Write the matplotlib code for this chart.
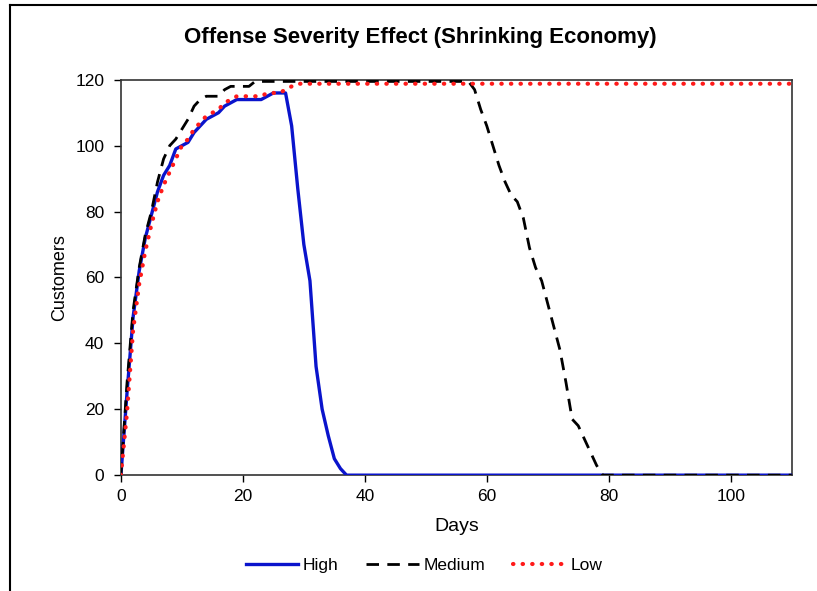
import matplotlib
matplotlib.use('Agg')
import matplotlib.pyplot as plt
from matplotlib.lines import Line2D

# Days 0..110
days = list(range(111))

high = [0, 25, 48, 62, 72, 79, 86, 91, 94, 99,
        100, 101, 104, 106, 108, 109, 110, 112, 113, 114,
        114, 114, 114, 114, 115, 116, 116, 116, 106, 87,
        70, 59, 33, 20, 12, 5, 2, 0] + [0] * 73

medium = [0, 28, 50, 63, 73, 80, 89, 96, 100, 102,
          105, 108, 112, 114, 115, 115, 115, 117, 118, 118,
          118, 118] + [119.5] * 36 + \
         [117, 111, 106, 100, 94, 89, 85, 83, 78, 69,
          63, 59, 52, 45, 38, 28, 17, 15, 11, 7,
          3, 0] + [0] * 31

low = [0, 19, 44, 58, 68, 76, 83, 88, 92, 96,
       100, 102, 105, 107, 109, 110, 111, 113, 114, 115,
       115, 115, 115, 115, 116, 116, 116, 117, 118] + [118.8] * 82

plt.rcParams['font.family'] = ['Liberation Sans', 'DejaVu Sans']

fig = plt.figure(figsize=(8.17, 5.91), dpi=100)
ax = fig.add_axes([0.148, 0.196, 0.821, 0.669])

ax.plot(days, high, color='#0a14cc', lw=2.4, label='High', zorder=3)
ax.plot(days, medium, color='black', lw=2.0, linestyle=(0, (4.5, 3)), label='Medium', zorder=4)
ax.plot(days, low, color='#ff1a1a', lw=3.0, linestyle=(0, (0.1, 2.2)),
        dash_capstyle='round', label='Low', zorder=5)

ax.set_xlim(0, 110)
ax.set_ylim(0, 120)
ax.set_xticks(range(0, 101, 20))
ax.set_yticks(range(0, 121, 20))
ax.tick_params(direction='out', length=5, width=1, labelsize=12.5, colors='black')
ax.tick_params(axis='y', pad=7)
ax.tick_params(axis='x', pad=5)
for s in ax.spines.values():
    s.set_color('#333333')
    s.set_linewidth(1.2)

fig.text(420 / 817, 1 - 37 / 591, 'Offense Severity Effect (Shrinking Economy)',
         fontsize=16, fontweight='bold', ha='center', va='center')
ax.set_xlabel('Days', fontsize=14, labelpad=10)
ax.set_ylabel('Customers', fontsize=13, labelpad=5)

ax.legend(loc='center', bbox_to_anchor=(424 / 817, 1 - 565 / 591), bbox_transform=fig.transFigure,
          ncol=3, frameon=False, fontsize=12.5, handlelength=3.0, handletextpad=0.3,
          columnspacing=1.6)

# outer chart border (left and top)
fig.add_artist(Line2D([10 / 817, 10 / 817], [0, 1 - 5 / 591], color='black', lw=1.5))
fig.add_artist(Line2D([10 / 817, 1], [1 - 5 / 591, 1 - 5 / 591], color='black', lw=1.5))

fig.savefig('out.png', dpi=100)
